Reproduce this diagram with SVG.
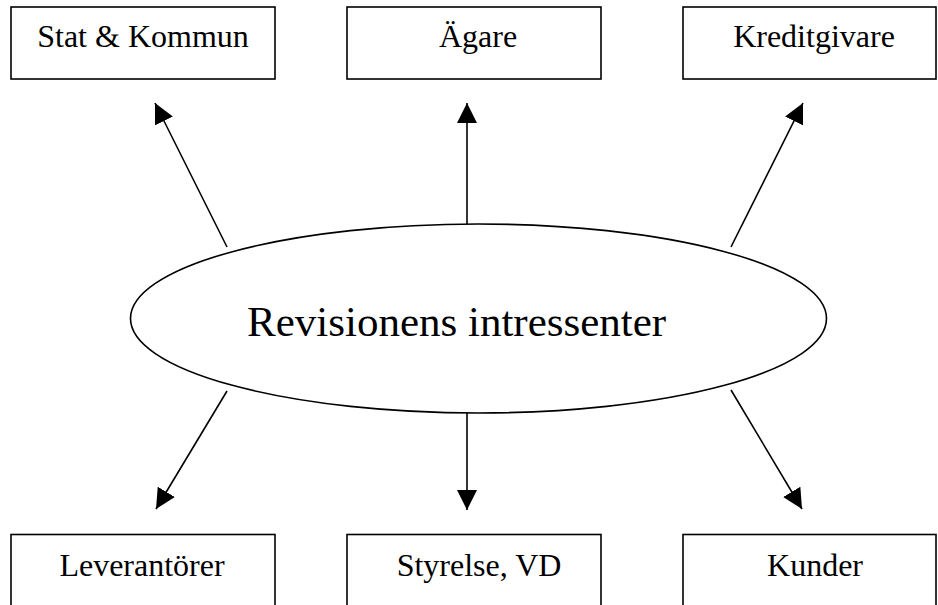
<svg xmlns="http://www.w3.org/2000/svg" width="938" height="605" viewBox="0 0 938 605">
<style>
.box{fill:#fff;stroke:#000;stroke-width:1.6}
.lbl{font-family:"Liberation Serif","Times New Roman",serif;font-size:32px;fill:#000;text-anchor:middle}
.big{font-family:"Liberation Serif","Times New Roman",serif;font-size:43px;fill:#000}
.con{stroke:#000;stroke-width:1.6;fill:none;marker-end:url(#ah)}
</style>
<defs>
<marker id="ah" markerUnits="userSpaceOnUse" markerWidth="22" markerHeight="20" refX="20" refY="10" orient="auto" viewBox="0 0 22 20">
<path d="M0,0 L20,10 L0,20 Z" fill="#000"/>
</marker>
</defs>
<rect width="938" height="605" fill="#fff"/>
<g id="connectors">
<line class="con" x1="227" y1="247" x2="155" y2="103"/>
<line class="con" x1="467" y1="224" x2="467" y2="103"/>
<line class="con" x1="731" y1="247" x2="803" y2="103"/>
<line class="con" x1="227" y1="391" x2="156" y2="509"/>
<line class="con" x1="467" y1="413" x2="467" y2="510"/>
<line class="con" x1="731" y1="390" x2="802" y2="509"/>
</g>
<g id="center">
<ellipse cx="478.5" cy="318.5" rx="348" ry="94.5" fill="none" stroke="#000" stroke-width="1.6"/>
<text class="big" x="247" y="336">Revisionens intressenter</text>
</g>
<g id="stat">
<rect class="box" x="11" y="7" width="264" height="72"/>
<text class="lbl" x="143" y="47">Stat &amp; Kommun</text>
</g>
<g id="agare">
<rect class="box" x="347" y="7" width="254" height="72"/>
<text class="lbl" x="478" y="47">Ägare</text>
</g>
<g id="kredit">
<rect class="box" x="683" y="7" width="253" height="72"/>
<text class="lbl" x="814" y="47">Kreditgivare</text>
</g>
<g id="lev">
<rect class="box" x="11" y="534.5" width="264" height="90"/>
<text class="lbl" x="142" y="576">Leverantörer</text>
</g>
<g id="styr">
<rect class="box" x="347" y="534.5" width="254" height="90"/>
<text class="lbl" x="479" y="576">Styrelse, VD</text>
</g>
<g id="kunder">
<rect class="box" x="683" y="534.5" width="253" height="90"/>
<text class="lbl" x="815" y="576">Kunder</text>
</g>
</svg>
